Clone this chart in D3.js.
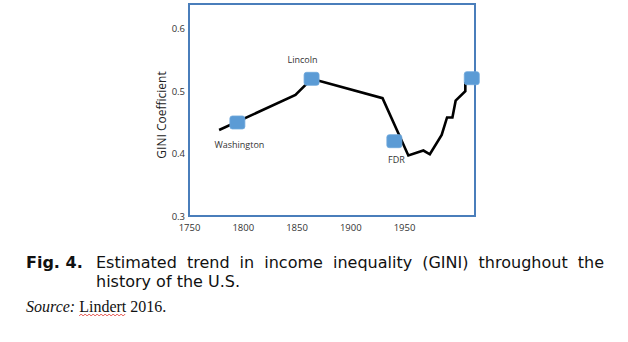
<!DOCTYPE html>
<html>
<head>
<meta charset="utf-8">
<script src="https://cdn.jsdelivr.net/npm/d3@7"></script>
<style>
  html, body { margin: 0; padding: 0; background: #fff; }
  svg { display: block; }
</style>
</head>
<body>
<svg id="chart" width="628" height="342"></svg>
<script>
// Estimated GINI coefficient for the U.S. (Lindert 2016)
const lineYears  = [1778, 1849, 1864, 1875, 1930, 1954, 1968, 1974, 1985, 1990, 1995, 1998, 2007, 2007];
const lineGini   = [0.438, 0.494, 0.520, 0.515, 0.489, 0.397, 0.405, 0.399, 0.430, 0.458, 0.458, 0.485, 0.500, 0.515];

// Presidential markers
const markerNames = ["Washington", "Lincoln", "FDR", ""];
const markerYears = [1795, 1864, 1941, 2013];
const markerGini  = [0.450, 0.520, 0.420, 0.521];

const yTicks = [0.3, 0.4, 0.5, 0.6];
const xTicks = [1750, 1800, 1850, 1900, 1950];

const captionLine1 = ["Estimated", "trend", "in", "income", "inequality", "(GINI)", "throughout", "the"];
const captionLine2 = "history of the U.S.";

// label placement relative to each marker (dx, dy)
const labelOffsets = [[2, 23], [-9, -18], [2, 19], [0, 0]];

const svg = d3.select("#chart");
const plot = { left: 189, right: 475, top: 4, bottom: 216 };

const x = d3.scaleLinear().domain([1750, 2016]).range([plot.left, plot.right]);
const y = d3.scaleLinear().domain([0.3, 0.64]).range([plot.bottom, plot.top]);

const tickFont = "'Open Sans', 'Liberation Sans', sans-serif";

// axes (labels only)
const yAxis = svg.append("g")
  .attr("transform", `translate(${plot.left},0)`)
  .call(d3.axisLeft(y).tickValues(yTicks).tickSize(0).tickPadding(4).tickFormat(d3.format(".1f")));
yAxis.select(".domain").remove();
yAxis.selectAll("text").attr("font-family", tickFont).attr("font-size", 9.5).attr("fill", "#333");

const xAxis = svg.append("g")
  .attr("transform", `translate(0,${plot.bottom})`)
  .call(d3.axisBottom(x).tickValues(xTicks).tickSize(0).tickPadding(8).tickFormat(d3.format("d")));
xAxis.select(".domain").remove();
xAxis.selectAll("text").attr("font-family", tickFont).attr("font-size", 9.5).attr("fill", "#333");

// y axis title
svg.append("text")
  .attr("transform", `translate(163,${(plot.top + plot.bottom) / 2 + 5}) rotate(-90)`)
  .attr("text-anchor", "middle")
  .attr("dominant-baseline", "middle")
  .attr("font-family", tickFont)
  .attr("font-size", 12)
  .attr("fill", "#222")
  .text("GINI Coefficient");

// plot frame
svg.append("rect")
  .attr("x", plot.left).attr("y", plot.top)
  .attr("width", plot.right - plot.left).attr("height", plot.bottom - plot.top)
  .attr("fill", "none").attr("stroke", "#4A7EBB").attr("stroke-width", 2);

// trend line
const pts = lineYears.map((yr, i) => [yr, lineGini[i]]);
svg.append("path")
  .datum(pts)
  .attr("d", d3.line().x(d => x(d[0])).y(d => y(d[1])))
  .attr("fill", "none").attr("stroke", "#000").attr("stroke-width", 2.6)
  .attr("stroke-linejoin", "miter");

// markers
const mk = markerYears.map((yr, i) => ({ name: markerNames[i], year: yr, g: markerGini[i], off: labelOffsets[i] }));
svg.selectAll("rect.marker").data(mk).enter().append("rect")
  .attr("class", "marker")
  .attr("x", d => x(d.year) - 7.5).attr("y", d => y(d.g) - 6.5)
  .attr("width", 15).attr("height", 13).attr("rx", 2.5)
  .attr("fill", "#5B9BD5").attr("stroke", "#6FA8DC").attr("stroke-width", 0.8);

svg.selectAll("text.mlabel").data(mk.filter(d => d.name)).enter().append("text")
  .attr("class", "mlabel")
  .attr("x", d => x(d.year) + d.off[0]).attr("y", d => y(d.g) + d.off[1])
  .attr("text-anchor", "middle").attr("dominant-baseline", "middle")
  .attr("font-family", tickFont).attr("font-size", 9)
  .attr("fill", "#333")
  .text(d => d.name);

// caption
const capFont = "'DejaVu Sans', Verdana, sans-serif";
const capSize = 16;
svg.append("text")
  .attr("x", 26).attr("y", 268)
  .attr("font-family", capFont).attr("font-size", capSize).attr("font-weight", "bold")
  .attr("fill", "#111").text("Fig. 4.");

// justified first line between x0 and x1
const x0 = 96, x1 = 604;
const words = captionLine1.map(w => svg.append("text")
  .attr("y", 268).attr("font-family", capFont).attr("font-size", capSize)
  .attr("fill", "#111").text(w));
const widths = words.map(t => t.node().getComputedTextLength());
const gap = (x1 - x0 - d3.sum(widths)) / (words.length - 1);
let cx = x0;
words.forEach((t, i) => { t.attr("x", cx); cx += widths[i] + gap; });

svg.append("text")
  .attr("x", x0).attr("y", 287)
  .attr("font-family", capFont).attr("font-size", capSize)
  .attr("fill", "#111").text(captionLine2);

// source line
const src = svg.append("text")
  .attr("x", 26).attr("y", 312)
  .attr("font-family", "'Liberation Serif', 'Times New Roman', serif")
  .attr("font-size", 16).attr("fill", "#111");
src.append("tspan").attr("font-style", "italic").text("Source:");
src.append("tspan").text(" Lindert");
src.append("tspan").text(" 2016.");

// spell-check squiggle under the author name
const srcNode = src.node();
const nSrc = "Source:".length;
const s0 = srcNode.getStartPositionOfChar(nSrc + 1).x;
const e0 = srcNode.getEndPositionOfChar(nSrc + 7).x;
const sq = [];
for (let px = s0, k = 0; px <= e0; px += 2, k++) sq.push([px, k % 2 ? 314 : 316]);
svg.append("path").datum(sq)
  .attr("d", d3.line())
  .attr("fill", "none").attr("stroke", "#E0302A").attr("stroke-width", 0.8);
</script>
</body>
</html>
